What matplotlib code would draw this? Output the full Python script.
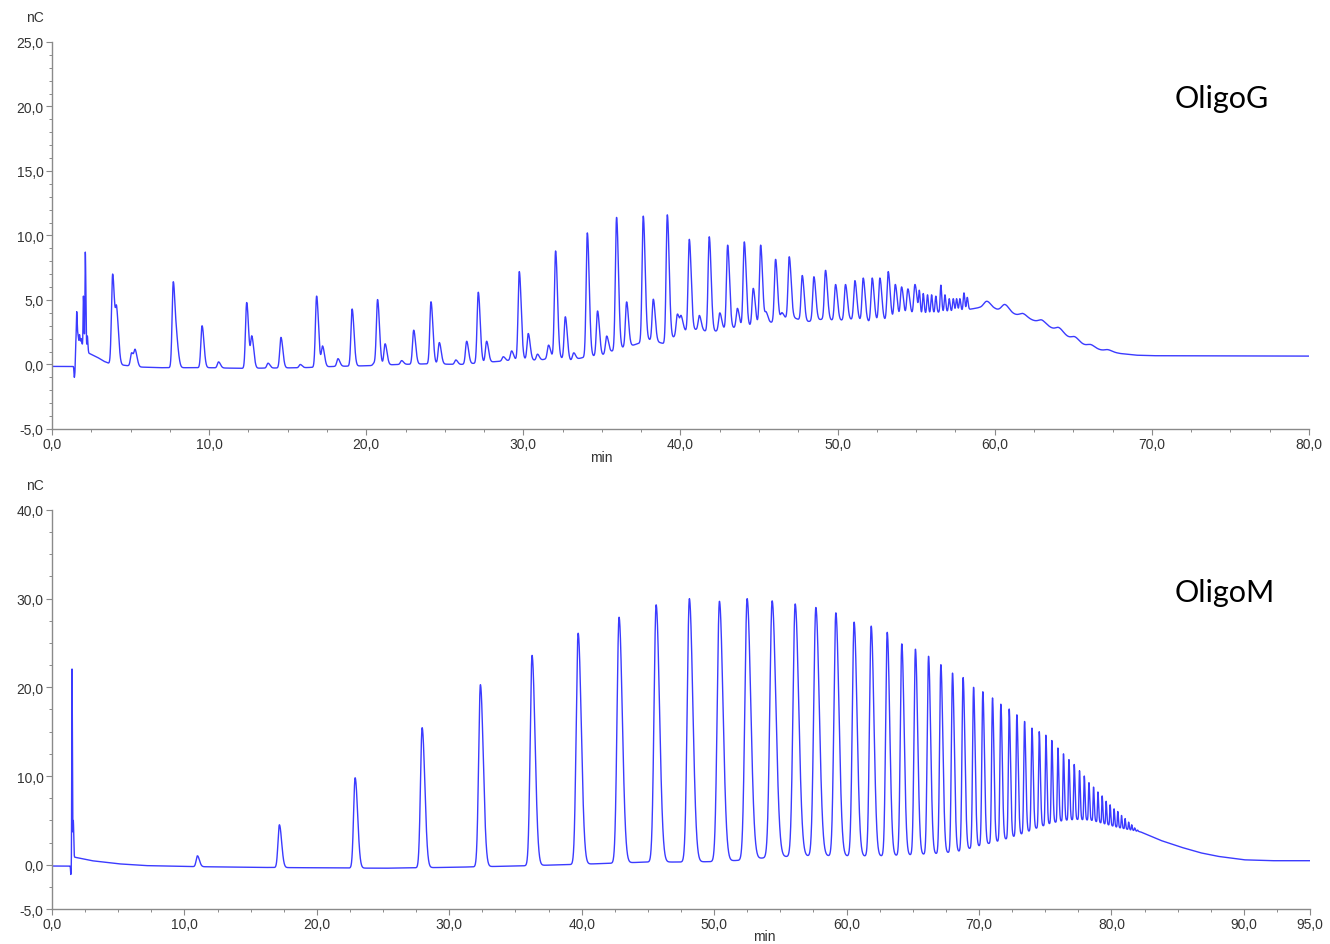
import numpy as np
import matplotlib
matplotlib.use("Agg")
import matplotlib.pyplot as plt
from matplotlib.ticker import MultipleLocator, FuncFormatter

# ---------------- OligoG trace ----------------
g_title = "OligoG"
g_xlim = (0.0, 80.0)
g_ylim = (-5.0, 25.0)
g_yticks = [-5.0, 0.0, 5.0, 10.0, 15.0, 20.0, 25.0]
g_xticks = [0.0, 10.0, 20.0, 30.0, 40.0, 50.0, 60.0, 70.0, 80.0]
# baseline / unresolved envelope (min, nC)
g_base_t = [0.0, 1.38, 1.46, 1.52, 2.0, 2.3, 2.9, 3.3, 3.7, 4.5, 5.6, 7.0, 10.0, 12.0, 16.0,
            18.0, 20.0, 22.0, 24.0, 26.0, 28.0, 30.0, 31.0, 32.0, 33.0, 34.0, 35.0, 36.0,
            37.0, 38.0, 39.0, 40.0, 41.0, 42.0, 43.0, 44.0, 45.0, 46.0, 47.0, 48.0, 49.0,
            50.0, 51.0, 52.0, 53.0, 54.0, 55.0, 57.0, 58.0, 59.0, 60.0, 61.0, 62.0, 63.0,
            64.0, 65.0, 66.0, 67.0, 68.0, 69.0, 70.0, 80.0]
g_base_v = [-0.15, -0.15, -0.15, 1.7, 1.5, 0.9, 0.55, 0.25, 0.05, -0.05, -0.2, -0.25, -0.25,
            -0.3, -0.25, -0.15, -0.1, 0.0, 0.05, 0.0, 0.2, 0.4, 0.3, 0.6, 0.3, 0.6, 0.7, 1.2,
            1.5, 1.9, 1.6, 2.5, 2.7, 2.5, 2.8, 2.9, 3.1, 3.3, 3.7, 3.3, 3.5, 3.4, 3.5, 3.3,
            3.4, 3.5, 3.9, 4.1, 4.2, 4.4, 4.3, 4.0, 3.6, 3.2, 2.6, 1.9, 1.35, 1.05, 0.85,
            0.72, 0.68, 0.65]
# peak apex times (min) and apex signal (nC)
g_peak_t = [1.42, 1.57, 1.65, 1.75, 1.85, 2.0, 2.12, 2.25, 3.86, 4.12, 5.07, 5.3, 7.72, 7.95,
            9.55, 10.6, 12.39, 12.72, 13.75, 14.57, 15.8, 16.84, 17.22, 18.2, 19.1, 20.5,
            20.72, 21.2, 22.25, 23.02, 24.12, 24.65, 25.7, 26.39, 27.13, 27.66, 28.72, 29.25,
            29.74, 30.31, 30.9, 31.6, 32.05, 32.67, 33.2, 34.07, 34.72, 35.3, 35.93, 36.57,
            37.63, 38.27, 39.16, 39.8, 40.05, 40.56, 41.2, 41.83, 42.5, 43.0, 43.62, 44.06,
            44.63, 45.1, 45.45, 46.05, 46.45, 46.92, 47.75, 48.49, 49.23, 49.87, 50.5, 51.1,
            51.63, 52.2, 52.69, 53.22, 53.67, 54.07, 54.47, 54.92, 55.2, 55.45, 55.72, 55.98,
            56.25, 56.57, 56.83, 57.1, 57.36, 57.57, 57.78, 58.04, 58.25, 59.5, 60.65, 61.8,
            63.0, 64.1, 65.1, 66.1, 67.2]
g_peak_v = [-1.0, 4.1, 2.2, 2.3, 2.0, 5.3, 8.7, 2.2, 7.0, 3.8, 0.9, 1.0, 6.4, 1.3,
            3.0, 0.2, 4.8, 2.1, 0.1, 2.1, 0.0, 5.3, 1.4, 0.45, 4.3, 0.1,
            5.0, 1.6, 0.3, 2.66, 4.86, 1.7, 0.35, 1.8, 5.6, 1.8, 0.6, 1.05,
            7.2, 2.4, 0.8, 1.5, 8.8, 3.7, 0.9, 10.2, 4.15, 2.2, 11.4, 4.85,
            11.5, 5.06, 11.6, 3.9, 3.6, 9.7, 3.8, 9.9, 4.0, 9.25, 4.35, 9.5,
            5.9, 9.25, 4.0, 8.15, 4.0, 8.35, 6.9, 6.8, 7.3, 6.2, 6.2, 6.5,
            6.7, 6.7, 6.7, 7.2, 6.2, 6.0, 5.85, 6.2, 5.6, 5.5, 5.4, 5.4,
            5.3, 6.15, 5.4, 5.1, 5.1, 5.1, 5.1, 5.55, 5.2, 4.9, 4.65, 3.95,
            3.45, 2.85, 2.15, 1.55, 1.15]

# ---------------- OligoM trace ----------------
m_title = "OligoM"
m_xlim = (0.0, 95.0)
m_ylim = (-5.0, 40.0)
m_yticks = [-5.0, 0.0, 10.0, 20.0, 30.0, 40.0]
m_xticks = [0.0, 10.0, 20.0, 30.0, 40.0, 50.0, 60.0, 70.0, 80.0, 90.0, 95.0]
m_base_t = [0.0, 1.38, 1.46, 1.56, 1.7, 3.0, 5.0, 7.0, 10.0, 15.0, 20.0, 25.0, 30.0, 35.0,
            40.0, 43.0, 45.0, 48.0, 50.0, 52.0, 54.0, 56.0, 58.0, 62.0, 65.0, 67.0, 68.5,
            69.5, 70.5, 71.5, 72.5, 73.5, 74.5, 75.5, 76.5, 77.5, 78.5, 79.5, 80.5, 81.5,
            82.2, 83.7, 85.2, 86.7, 88.0, 90.0, 92.0, 95.0]
m_base_v = [-0.15, -0.15, -0.15, 1.0, 0.85, 0.45, 0.1, -0.1, -0.2, -0.3, -0.35, -0.4, -0.3,
            -0.15, 0.05, 0.2, 0.3, 0.3, 0.35, 0.5, 0.8, 0.95, 1.0, 0.95, 1.1, 1.25, 1.5,
            1.9, 2.3, 2.65, 3.1, 3.6, 4.2, 4.7, 5.0, 5.1, 5.0, 4.6, 4.2, 3.9,
            3.7, 2.75, 2.0, 1.35, 0.95, 0.55, 0.45, 0.45]
m_peak_t = [1.42, 1.51, 1.61, 10.98, 17.17, 22.89, 27.95, 32.35, 36.25, 39.73, 42.82, 45.62,
            48.13, 50.4, 52.49, 54.38, 56.12, 57.68, 59.19, 60.57, 61.86, 63.07, 64.17,
            65.2, 66.19, 67.12, 68.0, 68.8, 69.59, 70.29, 71.02, 71.65, 72.28, 72.86, 73.44,
            74.0, 74.55, 75.05, 75.5, 75.96, 76.38, 76.79, 77.19, 77.59, 77.95, 78.3, 78.65,
            78.98, 79.3, 79.6, 79.9, 80.2, 80.48, 80.76, 81.03, 81.3, 81.53, 81.75, 81.97]
m_peak_v = [-1.1, 22.1, 4.9, 1.0, 4.5, 9.8, 15.45, 20.3, 23.6, 26.1, 27.9, 29.3,
            30.0, 29.7, 30.0, 29.75, 29.4, 29.0, 28.4, 27.35, 26.9, 26.2, 24.9,
            24.3, 23.5, 22.55, 21.6, 21.1, 20.0, 19.5, 18.8, 18.1, 17.55, 16.9, 16.15,
            15.4, 15.0, 14.6, 14.0, 13.15, 12.5, 11.85, 11.3, 10.6, 10.0, 9.25, 8.75,
            8.2, 7.75, 7.15, 6.75, 6.3, 6.0, 5.55, 5.2, 4.8, 4.5, 4.15, 3.9]

LINE = "#3b3bff"
TXT = "#333333"
AXIS = "#8a8a8a"


def bigauss(t, t0, amp, sl, sr):
    """Asymmetric (tailing) Gaussian peak."""
    s = np.where(t < t0, sl, sr)
    return amp * np.exp(-0.5 * ((t - t0) / s) ** 2)


def g_widths(t0, spacing):
    if t0 < 2.5:
        return 0.022, 0.035
    if t0 < 55.0:
        return 0.075, 0.12
    if t0 < 58.4:
        return 0.045, 0.055
    return 0.2, 0.25


def m_widths(t0, spacing):
    if t0 < 2.0:
        return 0.02, 0.03
    sr = min(0.17 * spacing, 0.12 + 0.0029 * t0)
    sr = max(sr, 0.045)
    return 0.62 * sr, sr


def build_trace(t, base_t, base_v, pk_t, pk_v, width_fn):
    y = np.interp(t, base_t, base_v)
    pk_t = np.asarray(pk_t)
    for i, (t0, v) in enumerate(zip(pk_t, pk_v)):
        amp = v - np.interp(t0, base_t, base_v)
        nb = []
        if i > 0:
            nb.append(t0 - pk_t[i - 1])
        if i < len(pk_t) - 1:
            nb.append(pk_t[i + 1] - t0)
        sl, sr = width_fn(t0, min(nb))
        y += bigauss(t, t0, amp, sl, sr)
    return y


def fmt_comma(v, _pos):
    return f"{v:.1f}".replace(".", ",")


def style_axes(ax, xlim, ylim, xticks, yticks, xminor, yminor):
    ax.set_xlim(*xlim)
    ax.set_ylim(*ylim)
    for side in ("top", "right"):
        ax.spines[side].set_visible(False)
    for side in ("left", "bottom"):
        ax.spines[side].set_color(AXIS)
        ax.spines[side].set_linewidth(1.0)
    ax.set_xticks(xticks)
    ax.set_yticks(yticks)
    ax.xaxis.set_minor_locator(MultipleLocator(xminor))
    ax.yaxis.set_minor_locator(MultipleLocator(yminor))
    ax.xaxis.set_major_formatter(FuncFormatter(fmt_comma))
    ax.yaxis.set_major_formatter(FuncFormatter(fmt_comma))
    ax.tick_params(which="major", direction="out", length=4, width=0.8,
                   color=AXIS, labelsize=10, labelcolor=TXT, pad=2)
    ax.tick_params(which="minor", direction="out", length=2.5, width=0.7,
                   color=AXIS)
    for lab in ax.get_xticklabels() + ax.get_yticklabels():
        lab.set_fontfamily("Liberation Sans")


fig = plt.figure(figsize=(13.3, 9.45), dpi=100)
ax1 = fig.add_axes([0.0391, 0.545, 0.9451, 0.4095])
ax2 = fig.add_axes([0.0391, 0.0370, 0.9459, 0.4223])

t1 = np.arange(g_xlim[0], g_xlim[1] + 1e-9, 0.004)
y1 = build_trace(t1, g_base_t, g_base_v, g_peak_t, g_peak_v, g_widths)
ax1.plot(t1, y1, color=LINE, lw=1.0)
style_axes(ax1, g_xlim, g_ylim, g_xticks, g_yticks, 2.5, 1.0)

t2 = np.arange(m_xlim[0], m_xlim[1] + 1e-9, 0.004)
y2 = build_trace(t2, m_base_t, m_base_v, m_peak_t, m_peak_v, m_widths)
ax2.plot(t2, y2, color=LINE, lw=1.0)
style_axes(ax2, m_xlim, m_ylim, m_xticks, m_yticks, 2.5, 2.5)

# unit labels
for x_px, y_px, label in [(35, 18, "nC"), (35, 486, "nC"),
                          (601, 458, "min"), (764, 937, "min")]:
    fig.text(x_px / 1330, 1 - y_px / 945, label, fontsize=10, color=TXT,
             family="Liberation Sans", ha="center", va="center")

# sample names
fig.text(1175 / 1330, 1 - 108 / 945, g_title, fontsize=22, color="black",
         family="Lato", ha="left", va="baseline")
fig.text(1175 / 1330, 1 - 602 / 945, m_title, fontsize=22, color="black",
         family="Lato", ha="left", va="baseline")

fig.savefig("out.png", dpi=100, facecolor="white")
